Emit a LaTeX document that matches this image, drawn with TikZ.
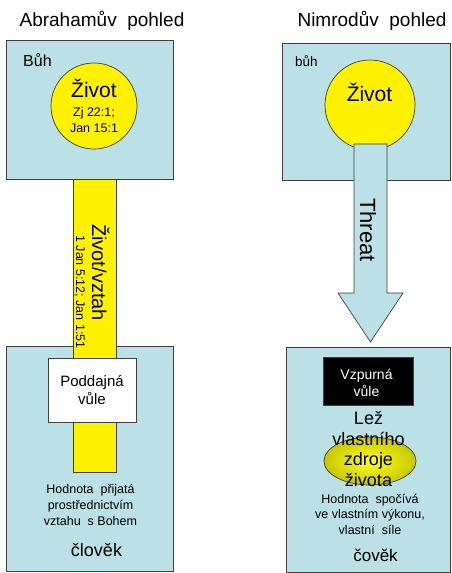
\documentclass[tikz,border=0pt]{standalone}
\usepackage{fontspec}
\setmainfont{Liberation Sans}
\usepackage{tikz}
\usetikzlibrary{positioning,shapes.geometric,calc}
\definecolor{skyfill}{RGB}{187,224,229}
\definecolor{edgegray}{RGB}{64,64,64}

\begin{document}
\begin{tikzpicture}[x=1pt,y=-1pt,
  box node/.style={rectangle,draw=edgegray,fill=skyfill,line width=0.9pt,inner sep=0pt},
  life node/.style={circle,draw=edgegray,fill=yellow,line width=0.7pt,inner sep=0pt},
  bar node/.style={rectangle,draw=edgegray,fill=yellow,line width=0.7pt,inner sep=0pt},
  will node/.style={rectangle,draw=edgegray,line width=0.7pt,inner sep=0pt},
  lie node/.style={ellipse,draw=edgegray,line width=0.7pt,inner sep=0pt,
    shading=radial,inner color=yellow!85!white,outer color=yellow!78!black},
  txt/.style={align=center,inner sep=0pt}]

  \useasboundingbox (0,0) rectangle (451,573);

  % Abraham
  \node[txt,anchor=base] (titleA) at (102,26) {\fontsize{19}{22}\selectfont Abrahamův\ \ pohled};
  \node[box node,minimum width=167pt,minimum height=139pt] (godA) at (89.5,109.5) {};
  \node[txt,anchor=base west] (godAname) at (23,66) {\fontsize{16}{19}\selectfont Bůh};
  \node[life node,minimum size=86pt,align=center,font=\fontsize{12.5}{15.5}\selectfont] (lifeA) at (94,106)
    {{\fontsize{21}{24}\selectfont Život}\\[3.5pt] Zj 22:1;\\ Jan 15:1};

  \node[box node,minimum width=167pt,minimum height=225pt] (manA) at (89.5,458.5) {};
  \node[bar node,minimum width=43pt,minimum height=293pt] (bondA) at (94.5,325.5) {};
  \node[txt,rotate=-90,anchor=base] (bondAlabel) at (92,272.5) {\fontsize{20}{24}\selectfont Život/vztah};
  \node[txt,rotate=-90,anchor=base] (bondAref) at (76,292) {\fontsize{12.5}{15}\selectfont 1 Jan 5:12; Jan 1:51};
  \node[will node,fill=white,minimum width=88pt,minimum height=64pt] (willA) at (92,390) {};
  \node[txt,font=\fontsize{15}{17.5}\selectfont] (willAtext) at (92,390) {Poddajná\\vůle};
  \node[txt,font=\fontsize{12.5}{15.6}\selectfont] (valueA) at (90.5,505) {Hodnota\ \ přijatá\\prostřednictvím\\vztahu\ \ s Bohem};
  \node[txt,anchor=base] (manAname) at (96.5,556.7) {\fontsize{18}{21}\selectfont člověk};

  % Nimrod
  \node[txt,anchor=base] (titleN) at (372,26) {\fontsize{19}{22}\selectfont Nimrodův\ \ pohled};
  \node[box node,minimum width=168pt,minimum height=137pt] (godN) at (366,111.5) {};
  \node[txt,anchor=base west] (godNname) at (295,66.7) {\fontsize{13.5}{16}\selectfont bůh};
  \node[life node,minimum size=90pt] (lifeN) at (370,105) {};
  \node[txt,anchor=base] (lifeNtext) at (369.5,101) {\fontsize{21}{24}\selectfont Život};

  \coordinate (threatTail) at (370.5,144);
  \coordinate (threatTip) at (370.5,342);
  \draw[edgegray,fill=skyfill,line width=0.7pt,line join=miter]
    ($(threatTail)+(-16.5,0)$) -- ($(threatTip)+(-16.5,-49)$) -- ($(threatTip)+(-32.5,-49)$)
    -- (threatTip) -- ($(threatTip)+(32.5,-49)$) -- ($(threatTip)+(16.5,-49)$)
    -- ($(threatTail)+(16.5,0)$) -- cycle;
  \node[txt,rotate=-90,anchor=base] (threatlabel) at (360,230) {\fontsize{22}{26}\selectfont Threat};

  \node[box node,minimum width=164pt,minimum height=225pt] (manN) at (368,459.5) {};
  \node[will node,fill=black,minimum width=90pt,minimum height=48pt] (willN) at (368,381) {};
  \node[txt,text=white,font=\fontsize{14}{17}\selectfont] (willNtext) at (366.5,383) {Vzpurná\\vůle};
  \node[lie node,minimum width=92pt,minimum height=48pt] (lieN) at (370,461) {};
  \node[txt,font=\fontsize{18}{20.7}\selectfont] (lieNtext) at (368.5,449) {Lež\\vlastního\\zdroje\\života};
  \node[txt,font=\fontsize{12.5}{15.5}\selectfont] (valueN) at (370,514) {Hodnota\ \ spočívá\\ve vlastním výkonu,\\vlastní\ \ síle};
  \node[txt,anchor=base] (manNname) at (375.5,561.7) {\fontsize{17}{20}\selectfont čověk};
\end{tikzpicture}
\end{document}
